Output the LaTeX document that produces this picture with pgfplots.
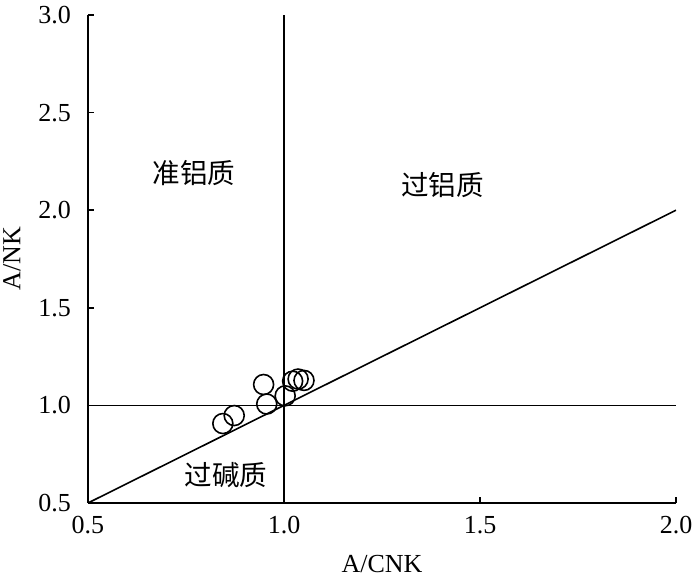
\documentclass[border=0pt]{standalone}
\usepackage{fontspec}
\setmainfont{Liberation Serif}
\newfontfamily\cjk{Noto Sans CJK SC}[Scale=0.95]
\usepackage{pgfplots}
\pgfplotsset{compat=1.18}

\begin{document}
\begin{tikzpicture}
\begin{axis}[
  name=ax,
  at={(0,0)}, anchor=south west,
  scale only axis,
  width=294pt, height=244pt,
  xmin=0.5, xmax=2.0, ymin=0.5, ymax=3.0,
  axis x line*=bottom, axis y line*=left,
  axis line style={line width=0.8pt, -},
  xtick={0.5,1.0,1.5,2.0},
  ytick={0.5,1.0,1.5,2.0,2.5,3.0},
  tick align=inside, major tick length=3pt,
  tick style={line width=0.8pt, black},
  /pgf/number format/.cd, fixed, fixed zerofill, precision=1,
  assume math mode=true, /pgfplots/.cd,
  tick label style={font=\fontsize{13}{15}\selectfont},
  yticklabel style={xshift=-5pt},
  xticklabel style={yshift=-3pt},
  xlabel={A/CNK}, ylabel={A/NK},
  label style={font=\fontsize{13}{15}\selectfont},
  xlabel style={yshift=-4pt},
  ylabel style={yshift=2pt},
]
\addplot[black, line width=0.9pt] coordinates {(1.0,0.5) (1.0,3.0)};
\addplot[black, line width=0.8pt] coordinates {(0.5,1.0) (2.0,1.0)};
\addplot[black, line width=0.8pt] coordinates {(0.5,0.5) (2.0,2.0)};
\addplot[only marks, mark=o, mark size=5pt, mark options={line width=0.8pt, black}] coordinates {
  (0.844,0.907) (0.873,0.948) (0.948,1.107) (0.956,1.007)
  (1.003,1.049) (1.022,1.124) (1.036,1.135) (1.051,1.128)
};
\node[font=\cjk\fontsize{14.5}{17}\selectfont] at (axis cs:0.770,2.19) {准铝质};
\node[font=\cjk\fontsize{14.5}{17}\selectfont] at (axis cs:1.405,2.13) {过铝质};
\node[font=\cjk\fontsize{14.5}{17}\selectfont] at (axis cs:0.852,0.645) {过碱质};
\end{axis}
\pgfresetboundingbox
\path (-44pt,-36.5pt) rectangle (306pt,251.5pt);
\end{tikzpicture}
\end{document}
